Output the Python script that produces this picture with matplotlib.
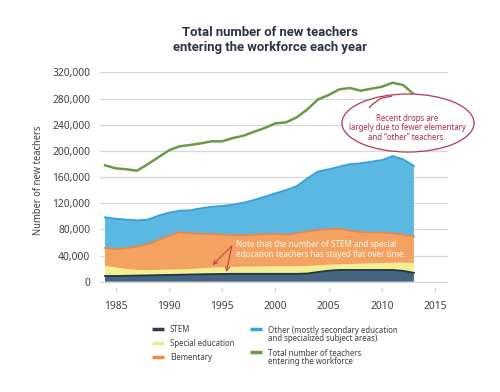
import numpy as np
import matplotlib
matplotlib.use("Agg")
import matplotlib.pyplot as plt
from matplotlib.patches import Ellipse, PathPatch
from matplotlib.path import Path
from matplotlib.lines import Line2D
from matplotlib.ticker import FuncFormatter
from matplotlib.textpath import TextPath
from matplotlib.font_manager import FontProperties
from matplotlib import font_manager

years = list(range(1984, 2014))

stem = [8.7, 8.7, 9.0, 9.3, 9.6, 10.0, 10.3, 10.6, 11.0, 11.3, 11.6, 11.8, 12.0, 12.0, 12.0,
        12.0, 12.0, 12.0, 12.0, 12.5, 14.8, 16.8, 17.9, 17.9, 17.9, 17.9, 17.9, 17.9, 16.5, 13.5]
special_ed = [15.3, 13.3, 10.4, 8.6, 7.8, 8.0, 8.1, 8.0, 8.4, 9.2, 9.8, 10.2, 10.5, 11.0, 11.0,
              11.5, 11.5, 11.5, 11.5, 11.5, 10.2, 9.2, 8.6, 9.1, 9.6, 10.1, 10.6, 11.1, 12.5, 15.0]
elementary = [27.5, 27.5, 32.1, 35.6, 40.2, 45.7, 51.5, 56.9, 54.6, 52.9, 51.1, 49.9, 48.4, 47.9, 48.9,
              48.9, 49.4, 48.4, 50.5, 53.0, 54.0, 54.1, 54.5, 51.0, 48.5, 46.9, 46.4, 45.0, 42.9, 40.3]
other = [46.9, 46.8, 43.3, 40.3, 37.2, 37.2, 35.6, 33.1, 35.1, 38.8, 42.1, 43.8, 46.8, 49.9, 53.0,
         57.6, 62.2, 68.2, 72.0, 81.0, 89.5, 91.7, 94.8, 101.9, 105.0, 108.6, 111.1, 118.1, 115.2, 108.1]
total = [177.9, 173.3, 171.8, 169.7, 179.4, 190.1, 200.8, 207.0, 209.0, 211.5, 214.6, 214.6, 219.6,
         223.2, 229.3, 235.0, 242.1, 243.6, 251.3, 263.5, 278.8, 285.4, 294.1, 296.1, 292.0, 295.1,
         298.1, 304.2, 300.6, 286.4]

x_ticks = [1985, 1990, 1995, 2000, 2005, 2010, 2015]
y_ticks = [0, 40000, 80000, 120000, 160000, 200000, 240000, 280000, 320000]

series_labels = ["STEM", "Special education", "Elementary",
                 "Other (mostly secondary education\nand specialized subject areas)",
                 "Total number of teachers\nentering the workforce"]

# ---- choose the installed sans face whose proportions best match the reference (narrow) ----
whitelist = {"DejaVu Sans", "Liberation Sans", "Liberation Sans Narrow", "Noto Sans", "Roboto",
             "Roboto Condensed", "Open Sans", "Lato", "Inter", "Noto Sans Display"}
target_ratio = 4.75  # width("320,000") / cap height in the reference
best = None
for f in font_manager.fontManager.ttflist:
    if not (f.name in whitelist or (("Condensed" in f.name or "Narrow" in f.name)
                                     and ("Sans" in f.name or "Roboto" in f.name))):
        continue
    if f.style != "normal" or f.weight not in (400, "normal", "regular", "book"):
        continue
    try:
        fp = FontProperties(fname=f.fname)
        w = TextPath((0, 0), "320,000", size=10, prop=fp).get_extents().width
        h = TextPath((0, 0), "H", size=10, prop=fp).get_extents().height
    except Exception:
        continue
    score = abs(w / h - target_ratio)
    if best is None or score < best[0]:
        best = (score, f.name, f.stretch)

if best is not None:
    plt.rcParams['font.family'] = [best[1], 'DejaVu Sans']
    plt.rcParams['font.stretch'] = best[2]
else:
    plt.rcParams['font.family'] = ['DejaVu Sans']

fill_cols = ["#456480", "#f4f08f", "#f4a262", "#5bb8e3"]
edge_cols = ["#22364b", "#efe98a", "#e9864a", "#3a9fd6"]
green = "#6b9a47"

k = 1000.0
s_stem = np.array(stem) * k
s_spec = np.array(special_ed) * k
s_elem = np.array(elementary) * k
s_oth = np.array(other) * k
s_tot = np.array(total) * k

fig = plt.figure(figsize=(5.0, 3.92), dpi=100)
fig.patch.set_facecolor("white")
ax = fig.add_axes([0.2, 0.2648, 0.696, 0.5505])

ax.stackplot(years, s_stem, s_spec, s_elem, s_oth, colors=fill_cols, linewidth=0, zorder=2)
cum = np.cumsum(np.vstack([s_stem, s_spec, s_elem, s_oth]), axis=0)
for i in [0, 2, 3]:
    ax.plot(years, cum[i], color=edge_cols[i], lw=1.3, zorder=3, solid_joinstyle="round")
ax.plot(years, s_tot, color=green, lw=1.8, zorder=4, solid_joinstyle="round")

ax.set_xlim(1983.53, 2016.2)
ax.set_ylim(-10000, 320000)
ax.set_yticks(y_ticks)
ax.yaxis.set_major_formatter(FuncFormatter(lambda v, p: f"{int(v):,}"))
ax.set_xticks(x_ticks)
ax.grid(axis="y", color="#d6d6d6", lw=0.9, zorder=0)
ax.set_axisbelow(True)
for sp in ax.spines.values():
    sp.set_visible(False)
ax.tick_params(axis="y", length=0, pad=7, labelsize=8.5, labelcolor="#444444")
ax.tick_params(axis="x", length=3, width=0.6, color="#bbbbbb", pad=6, labelsize=8.5,
               labelcolor="#444444", direction="out")
ylab = ax.set_ylabel("Number of new teachers", fontsize=8.5, color="#444444", labelpad=6)

title_fp = FontProperties(family=["Roboto", "Liberation Sans", "DejaVu Sans"], weight="bold",
                          stretch="normal", size=10.5)
title = fig.text(0.54, 0.899, "Total number of new teachers\nentering the workforce each year",
                 ha="center", va="center", fontproperties=title_fp, color="#2b3347",
                 linespacing=1.2)

# Note on orange area
note = ax.text(1996.3, 48500, "Note that the number of STEM and special\neducation teachers has stayed flat over time.",
               fontsize=7.8, color="#fff8ea", ha="left", va="center", linespacing=1.15, zorder=6)
red = "#c8404a"
for tgt in [(1994.1, 25300), (1995.4, 14800)]:
    ax.annotate("", xy=tgt, xytext=(1995.9, 54600),
                arrowprops=dict(arrowstyle="->", color=red, lw=0.8, shrinkA=0, shrinkB=0,
                                mutation_scale=7), zorder=6)

# Speech bubble
bc = "#b0384f"
bub = Ellipse((408 / 500, 1 - 123 / 392), 132 / 500, 58 / 392, transform=fig.transFigure,
              facecolor="white", edgecolor=bc, lw=0.9, zorder=5)
fig.add_artist(bub)
H = 392.0
tail_pts = [(369, 108), (375, 101), (382, 98), (386, 97.5), (392, 96)]
tail_path = Path([(x / 500, 1 - y / H) for x, y in tail_pts],
                 [Path.MOVETO, Path.CURVE3, Path.CURVE3, Path.CURVE3, Path.CURVE3])
fig.add_artist(PathPatch(tail_path, transform=fig.transFigure, facecolor="none",
                         edgecolor=bc, lw=0.9, zorder=6))
bubble_txt = fig.text(407 / 500, 1 - 128 / 392,
                      "Recent drops are\nlargely due to fewer elementary\nand \u201cother\u201d teachers.",
                      ha="center", va="center", fontsize=7.8, color="#b0304a", linespacing=1.1, zorder=7)

# Legend (manual)
leg_cols = ["#2d3e52", "#f0eb8a", "#ef8c4f", "#3b9fd8", green]
pos = [(152, 329), (152, 343), (152, 357), (250, 329), (250, 352)]
leg_texts = []
for (px, py), c, lab in zip(pos, leg_cols, series_labels):
    yy = 1 - py / 392
    fig.add_artist(Line2D([px / 500, (px + 12) / 500], [yy, yy], transform=fig.transFigure,
                          color=c, lw=2.5, solid_capstyle="butt"))
    nlines = lab.count("\n") + 1
    ty = yy if nlines == 1 else yy - 5.5 / 392
    leg_texts.append(fig.text((px + 18) / 500, ty, lab, ha="left", va="center",
                              fontsize=8, color="#444444", linespacing=0.95))

# ---- fit text sizes to the reference's measured extents ----
fig.canvas.draw()
r = fig.canvas.get_renderer()


def scale_for(t, target, dim="w"):
    bb = t.get_window_extent(r)
    cur = bb.width if dim == "w" else bb.height
    return t.get_fontsize() * target / cur


fs_tick = scale_for(ax.get_yticklabels()[-1], 38)
ax.tick_params(axis="both", labelsize=fs_tick)
title.set_fontsize(scale_for(title, 195))
note.set_fontsize(scale_for(note, 171))
bubble_txt.set_fontsize(scale_for(bubble_txt, 118))
ylab.set_fontsize(scale_for(ylab, 110, "h"))
fs_leg = scale_for(leg_texts[3], 132)
for t in leg_texts:
    t.set_fontsize(fs_leg)

fig.savefig("out.png", dpi=100, facecolor="white")
